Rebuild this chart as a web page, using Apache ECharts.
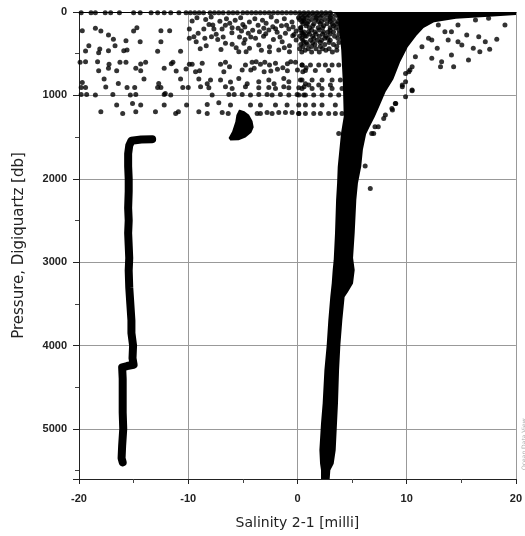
<!DOCTYPE html>
<html><head><meta charset="utf-8">
<script src="https://cdn.jsdelivr.net/npm/echarts@6/dist/echarts.min.js"></script>
<style>html,body{margin:0;padding:0;background:#fff}#c{width:525px;height:536px}</style>
</head><body><div id="c"></div>
<script>
// ---- data ----
const xTicks = [-20, -10, 0, 10, 20];
const yTicks = [0, 1000, 2000, 3000, 4000, 5000];

// dense main profile band: right edge (top -> bottom), left edge (bottom -> top)  [salinity diff, pressure]
const mainBandRight = [[20,0],[20,25],[17.5,45],[14.5,70],[12.5,110],[11.5,180],[10.8,280],[10.0,420],[9.3,600],[8.7,800],[8.0,950],[7.5,1100],[7.0,1250],[6.5,1380],[6.2,1460],[5.9,1650],[5.75,1850],[5.45,2050],[5.3,2250],[5.15,2650],[5.0,2950],[5.15,3093],[5.0,3253],[4.55,3350],[4.23,3413],[4.02,3693],[3.84,3993],[3.72,4293],[3.62,4693],[3.53,4933],[3.41,5253],[3.23,5413],[2.92,5493],[2.86,5600]];
const mainBandLeft = [[2.25,5600],[2.25,5493],[2.16,5413],[2.1,5253],[2.25,4933],[2.4,4693],[2.56,4293],[2.77,3993],[2.92,3693],[3.1,3413],[3.23,3253],[3.32,3093],[3.41,2976],[3.53,2656],[3.63,2256],[3.72,2056],[3.78,1856],[3.93,1656],[4.08,1456],[4.33,1256],[4.25,856],[4.1,456],[3.8,56],[3.5,0]];

// small dense cluster near -5 at 1200-1530 db
const blobOutline = [[-5.3,1185],[-4.9,1200],[-4.5,1240],[-4.2,1310],[-4.1,1380],[-4.3,1440],[-4.8,1495],[-5.4,1525],[-6.1,1530],[-6.2,1510],[-5.9,1440],[-5.6,1320],[-5.5,1240]];

// offset profile on the left
const leftTrace = [[-13.3,1525],[-14.3,1530],[-15.2,1545],[-15.4,1600],[-15.5,1700],[-15.5,1850],[-15.45,2000],[-15.45,2150],[-15.5,2350],[-15.45,2500],[-15.5,2650],[-15.45,2800],[-15.4,2950],[-15.45,3100],[-15.4,3300],[-15.3,3500],[-15.2,3700],[-15.2,3850],[-15.05,4000],[-15.1,4150],[-15.0,4230],[-15.6,4245],[-16.05,4260],[-16.0,4400],[-16.0,4600],[-16.0,4800],[-15.95,5000],[-16.05,5200],[-16.1,5350],[-16.0,5400]];

// surface row of points
const topRowX = [-19.8,-18.9,-18.5,-17.6,-17.1,-16.3,-15.0,-14.4,-13.4,-12.8,-12.2,-11.6,-10.85,-10.2,-9.8,-9.4,-9.0,-8.6,-8.0,-7.6,-7.2,-6.8,-6.3,-5.9,-5.5,-5.0,-4.6,-4.2,-3.8,-3.4,-3.0,-2.6,-2.2,-1.8,-1.4,-1.0,-0.6,-0.2,0.2,0.6,1.0,1.4,1.8,2.2,2.6,3.0];
const topRowP = 8;

// scattered points
const scatterLeft = [[-19.7,224],[-18.5,196],[-18.0,228],[-17.3,276],[-16.85,328],[-16.7,404],[-15.7,344],[-15.0,228],[-14.7,188],[-14.4,356],[-12.5,224],[-11.7,224],[-12.5,356],[-9.9,204],[-9.9,316],[-19.1,404],[-19.4,468],[-18.1,444],[-18.2,488],[-17.3,464],[-15.9,464],[-15.6,456],[-12.8,472],[-10.7,472],[-19.9,604],[-19.4,596],[-18.3,596],[-17.25,628],[-16.25,604],[-15.7,604],[-14.35,624],[-13.9,604],[-11.55,620],[-11.4,604],[-9.9,628],[-18.2,704],[-17.3,676],[-16.55,704],[-14.8,676],[-14.35,704],[-12.2,676],[-11.1,708],[-10.2,684],[-17.7,804],[-14.05,804],[-10.7,804],[-19.7,844],[-16.4,856],[-12.7,856],[-19.8,904],[-19.4,904],[-17.55,900],[-15.6,904],[-14.9,904],[-12.8,904],[-12.5,904],[-10.5,904],[-10.0,904],[-19.8,988],[-19.3,988],[-18.5,996],[-16.9,988],[-15.3,996],[-14.8,988],[-12.2,988],[-11.6,996],[-12.1,976],[-16.55,1116],[-15.1,1096],[-14.35,1116],[-12.2,1116],[-10.15,1116],[-18.0,1196],[-16.0,1216],[-14.8,1196],[-13.0,1196],[-11.15,1216],[-10.9,1196]];
const scatterMid = [[-9.64,108],[-8.57,204],[-7.75,156],[-7.65,204],[-6.9,204],[-6.2,136],[-5.98,188],[-5.43,196],[-5.12,228],[-4.82,180],[-4.5,256],[-4.27,300],[-3.84,316],[-3.48,236],[-3.08,196],[-2.87,136],[-2.62,216],[-2.26,176],[-1.86,244],[-1.46,164],[-1.1,256],[-0.79,204],[-0.43,284],[-0.12,228],[0.3,188],[0.67,284],[-9.48,296],[-9.09,256],[-8.48,316],[-7.87,296],[-7.44,268],[-6.59,376],[-5.98,388],[-5.61,428],[-4.91,376],[-4.39,436],[-3.54,396],[-2.56,416],[-1.4,356],[-0.73,404],[-0.12,336],[0.58,364],[-9.27,356],[-8.35,404],[-5.37,476],[-4.7,476],[-2.56,476],[-1.71,456],[-0.73,476],[-9.64,628],[-8.72,616],[-7.04,628],[-6.59,604],[-6.22,656],[-4.76,636],[-4.15,604],[-3.78,596],[-3.39,628],[-2.99,604],[-2.56,636],[-2.01,616],[-1.34,668],[-0.92,620],[-0.61,596],[-0.18,604],[0.43,636],[0.79,668],[-9.33,716],[-8.96,704],[-6.74,716],[-5.06,696],[-4.27,696],[-3.96,676],[-3.05,716],[-2.44,708],[-1.83,688],[-0.92,704],[0.0,696],[0.49,716],[-9.03,804],[-7.96,816],[-8.26,860],[-7.04,816],[-6.13,840],[-5.37,796],[-4.6,860],[-3.54,836],[-2.62,816],[-2.14,860],[-1.25,796],[-0.79,836],[0.27,816],[0.73,860],[-8.87,896],[-8.11,908],[-6.59,896],[-5.98,916],[-4.76,896],[-3.54,908],[-2.62,904],[-2.01,916],[-1.25,896],[-0.79,908],[0.12,908],[0.61,896],[-7.81,996],[-6.28,988],[-5.79,988],[-5.06,988],[-4.3,996],[-3.54,988],[-2.78,988],[-2.32,996],[-1.56,988],[-0.79,996],[-0.03,988],[0.58,996],[-8.26,1108],[-7.2,1088],[-6.13,1116],[-4.3,1116],[-3.39,1116],[-2.01,1116],[-0.95,1116],[0.12,1116],[-9.03,1196],[-8.26,1216],[-6.89,1204],[-6.34,1216],[-3.69,1216],[-3.39,1216],[-2.78,1204],[-2.32,1216],[-1.71,1204],[-1.1,1204],[-0.49,1204],[0.12,1216]];
const scatterUpperExtra = [[-9.2,70],[-8.4,90],[-7.9,60],[-7.1,110],[-6.5,80],[-5.7,100],[-5.2,70],[-4.4,120],[-3.9,80],[-3.2,100],[-2.4,60],[-1.9,110],[-1.2,80],[-0.5,120],[0.1,70],[0.6,110],[-7.3,330],[-6.8,300],[-5.3,300],[-4.8,330],[-3.1,290],[-2.2,330],[-1.6,300],[-0.3,270],[0.4,250],[-8.9,440],[-7.0,450],[-3.3,460],[-1.2,430],[0.2,440],[-6.0,250],[-5.0,150],[-3.6,160],[-2.0,200],[-1.0,160],[-0.4,180],[-4.1,220],[-2.9,260],[-6.6,160],[-8.1,150]];
const scatterNearBand = [[0.3,40],[0.7,40],[1.1,40],[1.5,40],[1.9,40],[2.3,40],[2.7,40],[3.1,40],[3.5,40],[0.2,90],[0.6,90],[1.3,90],[1.7,90],[2.5,90],[2.9,90],[3.3,90],[0.5,140],[0.9,140],[1.5,140],[2.1,140],[2.7,140],[3.2,140],[3.6,140],[0.3,190],[1.1,190],[1.9,190],[2.3,190],[3.0,190],[3.5,190],[0.6,240],[1.0,240],[1.6,240],[2.4,240],[2.8,240],[3.3,240],[0.2,290],[0.8,290],[1.4,290],[2.0,290],[2.6,290],[3.4,290],[0.5,340],[1.2,340],[1.8,340],[2.2,340],[3.0,340],[0.3,390],[0.9,390],[1.6,390],[2.5,390],[3.3,390],[1.0,440],[1.7,440],[2.3,440],[2.9,440],[0.4,480],[1.3,480],[2.0,480],[3.2,480],[0.5,65],[0.9,65],[1.7,65],[2.1,65],[3.0,65],[3.8,65],[0.4,115],[1.0,115],[1.9,115],[2.2,115],[3.0,115],[3.7,115],[0.8,165],[1.4,165],[2.4,165],[3.3,165],[3.9,165],[0.3,215],[1.3,215],[2.0,215],[3.0,215],[3.8,215],[0.5,265],[1.1,265],[1.7,265],[2.3,265],[3.0,265],[3.8,265],[0.4,315],[1.5,315],[2.5,315],[2.8,315],[3.7,315],[0.8,365],[1.4,365],[2.1,365],[2.9,365],[3.8,365],[0.5,415],[1.3,415],[2.1,415],[3.6,415],[0.7,460],[2.6,460],[3.6,460],[0.42,636],[1.19,636],[1.95,636],[2.56,636],[3.17,636],[3.78,636],[0.73,700],[1.64,700],[2.86,700],[0.42,816],[1.34,816],[2.25,816],[3.17,816],[3.93,816],[1.04,876],[1.95,876],[3.02,876],[0.42,916],[1.34,916],[2.25,916],[3.17,916],[4.08,916],[0.12,996],[0.73,996],[1.49,996],[2.25,996],[3.02,996],[3.78,996],[0.73,1116],[1.49,1116],[2.25,1116],[3.47,1116],[0.12,1216],[0.73,1216],[1.49,1216],[2.1,1216],[2.86,1216],[3.47,1216],[4.08,1216],[3.78,1456]];
const scatterRight = [[19.0,156],[18.25,328],[17.6,448],[17.2,356],[16.7,476],[16.6,296],[16.1,436],[15.66,576],[15.5,276],[15.05,396],[14.7,356],[14.3,656],[14.1,516],[13.8,336],[13.2,596],[13.1,656],[12.8,436],[12.3,556],[12.0,316],[10.5,944],[16.3,96],[17.5,76],[14.7,156],[14.1,236],[12.9,156],[13.5,236],[12.3,336],[11.4,416],[10.8,536],[10.5,656],[10.2,716],[9.9,836],[9.6,896],[10.5,936],[9.9,1016],[8.96,1096],[8.65,1156],[8.05,1236],[7.4,1376],[6.98,1456],[9.9,736],[10.3,696],[9.6,876],[9.0,1096],[8.7,1176],[7.9,1276],[7.1,1376],[6.8,1456],[6.67,2116],[6.2,1848]];

// ---- chart ----
const txt = '#222';
const allScatter = topRowX.map(x => [x, topRowP]).concat(scatterLeft, scatterMid, scatterUpperExtra, scatterNearBand, scatterRight);
const mainOutline = mainBandRight.concat(mainBandLeft);

function polySeries(outline) {
  return {
    type: 'custom', xAxisIndex: 0, yAxisIndex: 0, silent: true, clip: true,
    data: [outline[0]],
    renderItem: function (params, api) {
      return { type: 'polygon', shape: { points: outline.map(p => api.coord(p)) },
               style: { fill: '#000', stroke: '#000', lineWidth: 2 } };
    }
  };
}

const chart = echarts.init(document.getElementById('c'), null, { renderer: 'canvas' });
chart.setOption({
  animation: false,
  backgroundColor: '#fff',
  grid: { left: 79, right: 8, top: 12, bottom: 57 },
  xAxis: [{
    type: 'value', min: xTicks[0], max: xTicks[xTicks.length - 1], interval: 10, position: 'bottom',
    name: 'Salinity 2-1 [milli]', nameLocation: 'middle', nameGap: 37,
    nameTextStyle: { fontFamily: 'DejaVu Sans', fontSize: 14, color: txt },
    axisLine: { onZero: false, lineStyle: { color: '#222', width: 1 } },
    axisTick: { length: 5, lineStyle: { color: '#222' } },
    minorTick: { show: true, splitNumber: 2, length: 4, lineStyle: { color: '#444' } },
    axisLabel: { fontFamily: 'Liberation Sans', fontWeight: 'bold', fontSize: 11, color: txt, margin: 14 },
    splitLine: { show: true, lineStyle: { color: '#999', width: 1 } }
  }, {
    type: 'value', min: xTicks[0], max: xTicks[xTicks.length - 1], position: 'top',
    axisLine: { show: true, onZero: false, lineStyle: { color: '#000', width: 1.2 } },
    axisTick: { show: false }, axisLabel: { show: false }, splitLine: { show: false }
  }],
  yAxis: {
    type: 'value', inverse: true, min: 0, max: 5600, interval: 1000,
    name: 'Pressure, Digiquartz [db]', nameLocation: 'middle', nameGap: 52, nameRotate: 90,
    nameTextStyle: { fontFamily: 'DejaVu Sans', fontSize: 15, color: txt },
    axisLine: { show: true, onZero: false, lineStyle: { color: '#222', width: 1 } },
    axisTick: { show: true, length: 6, lineStyle: { color: '#222' } },
    minorTick: { show: true, splitNumber: 2, length: 4, lineStyle: { color: '#444' } },
    axisLabel: { fontFamily: 'Liberation Sans', fontWeight: 'bold', fontSize: 11, color: txt, margin: 12,
      formatter: v => (yTicks.indexOf(v) >= 0 ? String(v) : '') },
    splitLine: { show: true, lineStyle: { color: '#999', width: 1 } }
  },
  series: [
    polySeries(mainOutline),
    polySeries(blobOutline),
    { type: 'line', data: leftTrace, showSymbol: false, symbol: 'none', silent: true,
      lineStyle: { color: '#000', width: 8, cap: 'round', join: 'round' } },
    { type: 'scatter', data: allScatter, symbolSize: 5, silent: true,
      itemStyle: { color: '#000' } }
  ],
  graphic: [{
    type: 'text', x: 521, y: 470, rotation: Math.PI / 2,
    style: { text: 'Ocean Data View', fontSize: 6, fill: '#aaa', fontFamily: 'DejaVu Sans' }
  }]
});
</script></body></html>
